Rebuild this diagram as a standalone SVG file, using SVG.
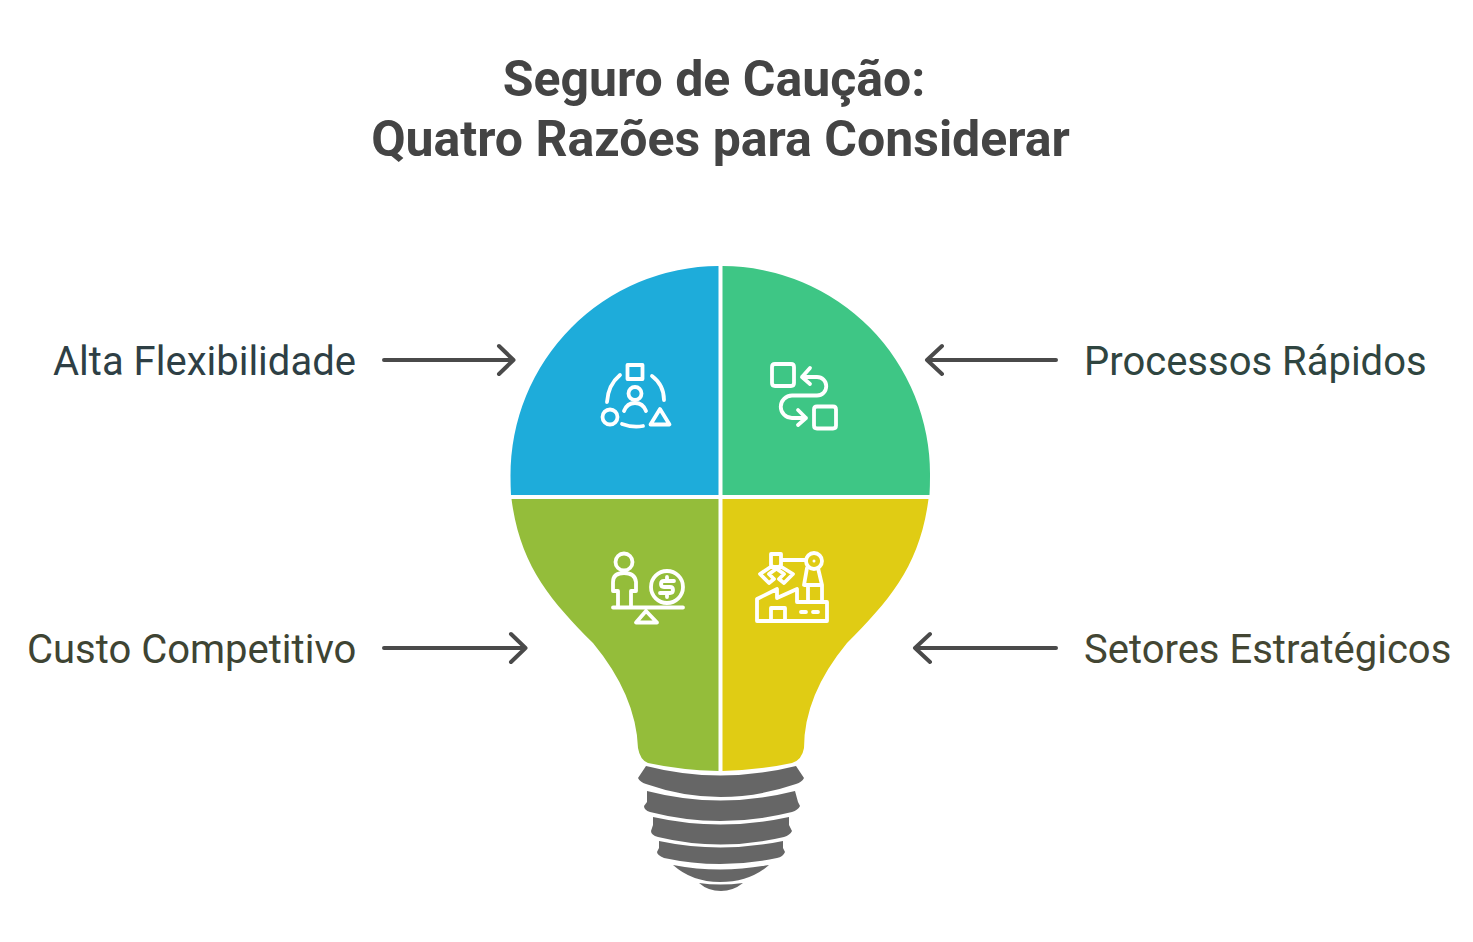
<svg xmlns="http://www.w3.org/2000/svg" width="1473" height="942" viewBox="0 0 1473 942">
<style>
.t{font-family:Roboto,"Liberation Sans",sans-serif;font-weight:700;font-size:50px;fill:#444;text-anchor:middle}
.l{font-family:Roboto,"Liberation Sans",sans-serif;font-size:40px}
.c{fill:none;stroke:#4a4a4a;stroke-width:4;stroke-linecap:round;stroke-linejoin:round}
.i{fill:none;stroke:#fff;stroke-width:3.800;stroke-linecap:round;stroke-linejoin:round}
.b{fill:#666}
</style>
<rect width="1473" height="942" fill="#fff"/>
<g id="title">
<text class="t" x="714" y="96">Seguro de Caução:</text>
<text class="t" x="720.500" y="156">Quatro Razões para Considerar</text>
</g>
<g id="node-alta">
<path fill="#1eacda" d="M718.500 266A209 209 0 0 0 510.500 476Q510.500 486 511 495H718.500Z"/>
<path class="i" d="M627.500 365h15v14h-15zM620 375q-12 10-13 27M652 376q12 9 12 24M622 424q11 4 21 2"/>
<circle class="i" cx="635" cy="393.500" r="6.500"/>
<path class="i" d="M624 411q3-8 11-8t11 8"/>
<circle class="i" cx="610" cy="417" r="7.500"/>
<path class="i" d="M660 409l9.500 15.500h-19z"/>
<text class="l" x="53" y="374.500" fill="#2e3f45">Alta Flexibilidade</text>
</g>
<g id="node-processos">
<path fill="#3ec685" d="M722.500 266A208 208 0 0 1 930 476Q930 486 929.500 495H722.500Z"/>
<path class="i" d="M775 364h16q3 0 3 3v16q0 3-3 3h-16q-3 0-3-3v-16q0-3 3-3zM817 406.500h16q3 0 3 3v16q0 3-3 3h-16q-3 0-3-3v-16q0-3 3-3zM802 377h15a9 9 0 0 1 0 18.500h-25a11 11 0 0 0 0 22.500h14M810 368l-8 9 8 7M798 410l8 8-8 7"/>
<text class="l" x="1084" y="374.500" fill="#2f4540">Processos Rápidos</text>
</g>
<g id="node-custo">
<path fill="#94bd3a" d="M511.500 499H718.500V771Q680 770 648 763Q640 760 638 748Q636 695 593 643C550 600 520 565 511.500 499Z"/>
<circle class="i" cx="624" cy="562" r="8.500"/>
<path class="i" d="M618 606v-15h-5v-9q0-9 11-9t12 9v9h-5v15M613 607.500h70M646 611l-10 11.500h21z"/>
<circle class="i" cx="667" cy="587" r="16"/>
<path class="i" d="M674 581h-10q-3 0-3 3t3 3h6q3 0 3 3t-3 3h-10M667 577v3M667 594v3"/>
<text class="l" x="27" y="662.500" fill="#3e4433">Custo Competitivo</text>
</g>
<g id="node-setores">
<path fill="#e0cc14" d="M722.500 499H928.500C920 565 890 600 847 643Q804 695 804 748Q802 760 792 763Q760 770 722.500 771Z"/>
<path class="i" d="M771 554h10v13h-10zM781 560h25M772 566l-12 8 9 9 5-4-5-5 7-5M780 566l13 8-9 9-5-4 5-5-7-5M807 568l-3 17h18l-4-17M808 585v17M822 585v17M757 621v-22l20-10v9l20-9v13h30v19zM771 621v-13h14v13M801 612h5M813 612h5"/>
<circle class="i" cx="814" cy="561" r="8"/>
<circle cx="814" cy="561" r="1.500" fill="#fff"/>
<text class="l" x="1084" y="662.500" fill="#434633">Setores Estratégicos</text>
</g>
<g id="base">
<path class="b" d="M646 766Q720 785 796 766L804 778Q802 782 796 784Q720 810 646 784Q640 782 638 778Z"/>
<path class="b" d="M647 791Q720 810 795 791L798 802L800 806Q798 810 792 812Q720 830 650 812Q644 810 644 806L647 802Z"/>
<path class="b" d="M653 817Q720 832 789 817L789 825L792 831Q790 835 784 837Q720 852 658 837Q651 835 651 831L653 825Z"/>
<path class="b" d="M659 841Q720 854 783 841L783 848L785 852Q783 857 777 858Q720 870 664 858Q657 855 657 852L659 848Z"/>
<path class="b" d="M673 865Q720 874 769 865Q750 882 720 882Q692 882 673 865Z"/>
<path class="b" d="M699 883Q720 886 743 883Q733 891 721 891Q708 891 699 883Z"/>
</g>
<g id="connectors">
<path class="c" d="M384 360H513.500M499 346L513.500 360L499 374"/>
<path class="c" d="M1056 360H927M942 346L927 360L942 374"/>
<path class="c" d="M384 648H525.500M511 634L525.500 648L511 662"/>
<path class="c" d="M1056 648H915M930 634L915 648L930 662"/>
</g>
</svg>
